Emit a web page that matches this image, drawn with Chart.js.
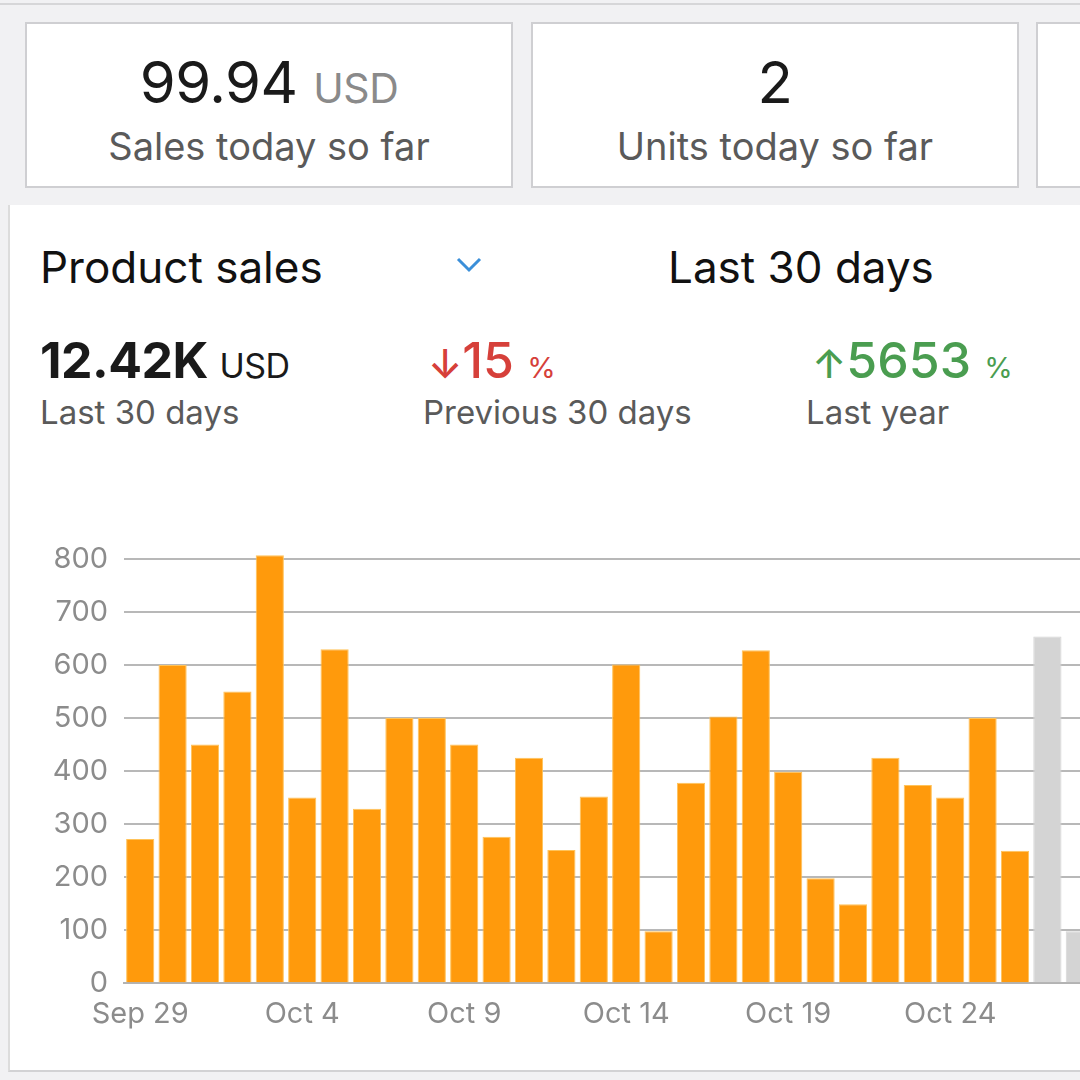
<!DOCTYPE html>
<html>
<head>
<meta charset="utf-8">
<script src="https://cdn.jsdelivr.net/npm/chart.js@4.4.1/dist/chart.umd.min.js"></script>
<style>
  html, body { margin:0; padding:0; }
  body { width:1080px; height:1080px; overflow:hidden; position:relative; background:#f1f1f3; font-family: Inter, "Open Sans", Roboto, sans-serif; }
  .topline { position:absolute; left:0; top:3px; width:1080px; height:2px; background:#d6d6d8; }
  .card { position:absolute; top:22px; height:166px; background:#fff; border:2px solid #cfcfd2; box-sizing:border-box; text-align:center; }
  .big { position:absolute; left:0; right:0; top:29px; font-size:58px; color:#1a1a1a; line-height:1; letter-spacing:-0.5px; }
  .big .u { font-size:41px; color:#8a8a8a; }
  .sub { position:absolute; left:0; right:0; top:103px; font-size:38px; color:#5a5a5a; line-height:1; }
  .panel { position:absolute; left:8px; top:205px; width:1080px; height:865px; background:#fff; border-left:2px solid #dcdcdc; border-bottom:2px solid #d2d2d4; }
  .t { position:absolute; line-height:1; white-space:nowrap; }
  #chartwrap { position:absolute; left:0; top:515px; width:1096px; height:531px; }
</style>
</head>
<body>
<div class="topline"></div>
<div class="card" style="left:25px;width:488px;"><div class="big"><span id="v1"></span> <span class="u">USD</span></div><div class="sub">Sales today so far</div></div>
<div class="card" style="left:531px;width:488px;"><div class="big" id="v2"></div><div class="sub">Units today so far</div></div>
<div class="card" style="left:1036px;width:200px;"></div>
<div class="panel"></div>

<div class="t" style="left:40px;top:245px;font-size:44px;color:#111;">Product sales</div>
<svg class="t" style="left:455px;top:256px;" width="28" height="18" viewBox="0 0 28 18"><polyline points="3,3 14,14 25,3" fill="none" stroke="#3b8fd9" stroke-width="3"/></svg>
<div class="t" style="left:668px;top:245px;font-size:44px;color:#111;">Last 30 days</div>

<div class="t" style="left:40px;top:335px;font-size:50px;font-weight:700;color:#1a1a1a;letter-spacing:-0.5px;">12.42K <span style="font-size:34px;font-weight:400;">USD</span></div>
<div class="t" style="left:40px;top:396px;font-size:33px;color:#5a5a5a;">Last 30 days</div>

<div class="t" style="left:428px;top:335px;font-size:50px;font-weight:500;color:#d6403a;"><span style="font-size:40px;">↓</span>15 <span style="font-size:29px;font-weight:400;">%</span></div>
<div class="t" style="left:423px;top:396px;font-size:33px;color:#5a5a5a;">Previous 30 days</div>

<div class="t" style="left:812px;top:335px;font-size:50px;font-weight:500;color:#4a9d50;"><span style="font-size:40px;">↑</span>5653 <span style="font-size:29px;font-weight:400;">%</span></div>
<div class="t" style="left:806px;top:396px;font-size:33px;color:#5a5a5a;">Last year</div>

<div id="chartwrap"><canvas id="c"></canvas></div>

<script>
const salesToday = "99.94";
const unitsToday = "2";
const days = ["Sep 29","Sep 30","Oct 1","Oct 2","Oct 3","Oct 4","Oct 5","Oct 6","Oct 7","Oct 8",
  "Oct 9","Oct 10","Oct 11","Oct 12","Oct 13","Oct 14","Oct 15","Oct 16","Oct 17","Oct 18",
  "Oct 19","Oct 20","Oct 21","Oct 22","Oct 23","Oct 24","Oct 25","Oct 26","Oct 27","Oct 28"];
const sales = [272,600,450,550,807,350,630,329,500,500,
  450,276,425,251,352,601,98,378,503,628,
  399,198,149,425,374,350,500,250,654,98];
const highlightedCount = 28; // orange bars; remaining bars are grey
const yTicks = [0,100,200,300,400,500,600,700,800];

document.getElementById('v1').textContent = salesToday;
document.getElementById('v2').textContent = unitsToday;

new Chart(document.getElementById('c'), {
  type: 'bar',
  data: {
    labels: days,
    datasets: [{
      data: sales,
      backgroundColor: ctx => ctx.dataIndex < highlightedCount ? '#ff9a0c' : '#d4d4d4',
      borderColor: ctx => ctx.dataIndex < highlightedCount ? '#ffc35a' : '#d4d4d4',
      borderWidth: 1,
      barPercentage: 0.87,
      categoryPercentage: 1.0
    }]
  },
  options: {
    responsive: true,
    maintainAspectRatio: false,
    animation: false,
    layout: { padding: { top: 0, right: 0, bottom: 0, left: 0 } },
    plugins: { legend: { display: false }, tooltip: { enabled: false } },
    scales: {
      x: {
        grid: { display: false, drawTicks: false },
        border: { display: true, color: '#b3b3b3', width: 2 },
        ticks: {
          autoSkip: false, maxRotation: 0, minRotation: 0, padding: 14,
          color: '#8c8c8c', font: { family: 'Inter, "Open Sans", sans-serif', size: 29 },
          callback: (v, i) => i % 5 === 0 ? days[i] : ''
        }
      },
      y: {
        min: 0, max: 820,
        afterFit: s => { s.width = 124; },
        afterBuildTicks: s => { s.ticks = yTicks.map(v => ({ value: v })); },
        grid: { color: '#b8b8b8', lineWidth: 2, drawTicks: false },
        border: { display: false },
        ticks: {
          padding: 16, color: '#8c8c8c',
          font: { family: 'Inter, "Open Sans", sans-serif', size: 29 }
        }
      }
    }
  }
});
</script>
</body>
</html>
